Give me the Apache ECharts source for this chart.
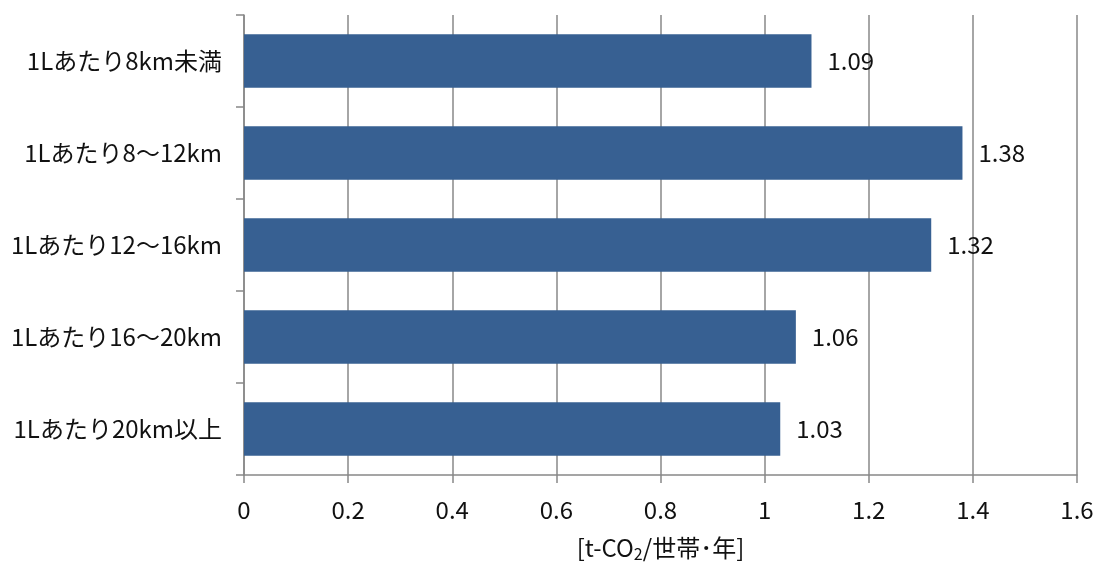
<!DOCTYPE html>
<html><head><meta charset="utf-8">
<script src="https://cdn.jsdelivr.net/npm/echarts@6/dist/echarts.min.js"></script>
<style>html,body{margin:0;padding:0;background:#fff}#c{width:1099px;height:566px}</style>
</head><body><div id="c"></div>
<script>
const categories = ['1Lあたり8km未満','1Lあたり8～12km','1Lあたり12～16km','1Lあたり16～20km','1Lあたり20km以上'];
const values = [1.09, 1.38, 1.32, 1.06, 1.03];
const xTicks = ['0','0.2','0.4','0.6','0.8','1','1.2','1.4','1.6'];
const FONT = '"Noto Sans CJK JP", "Noto Sans", sans-serif';
const chart = echarts.init(document.getElementById('c'));
chart.setOption({
  animation: false,
  grid: {left: 244, right: 22, top: 15, bottom: 91, containLabel: false, outerBoundsMode: 'none'},
  xAxis: {
    type: 'value', min: 0, max: 1.6, interval: 0.2,
    axisLine: {show: true, lineStyle: {color: '#888', width: 1.5}},
    axisTick: {show: true, length: 8, lineStyle: {color: '#888', width: 1.5}},
    splitLine: {show: true, lineStyle: {color: '#888', width: 1.5}},
    axisLabel: {color: '#111', fontSize: 24, fontFamily: FONT, margin: 23,
      formatter: (v) => { const i = Math.round(v / 0.2); return xTicks[i] ?? String(v); }},
    name: '{a|[t-CO}{s|2}{a|/世帯･年]}',
    nameLocation: 'middle', nameGap: 59,
    nameTextStyle: {rich: {
      a: {fontSize: 24, color: '#111', fontFamily: FONT},
      s: {fontSize: 16, color: '#111', fontFamily: FONT, verticalAlign: 'bottom', padding: [12, 0, 0, 0]}
    }}
  },
  yAxis: {
    type: 'category', data: categories, inverse: true,
    axisLine: {show: true, lineStyle: {color: '#888', width: 1.5}},
    axisTick: {show: true, length: 8, lineStyle: {color: '#888', width: 1.5}},
    splitLine: {show: false},
    axisLabel: {color: '#111', fontSize: 24, fontFamily: FONT, margin: 22}
  },
  series: [{
    type: 'bar', data: values, barWidth: '58%',
    itemStyle: {color: '#376092'},
    label: {show: true, position: 'right', distance: 16, color: '#111', fontSize: 24, fontFamily: FONT,
      formatter: (p) => p.value.toFixed(2)}
  }]
});
</script></body></html>
